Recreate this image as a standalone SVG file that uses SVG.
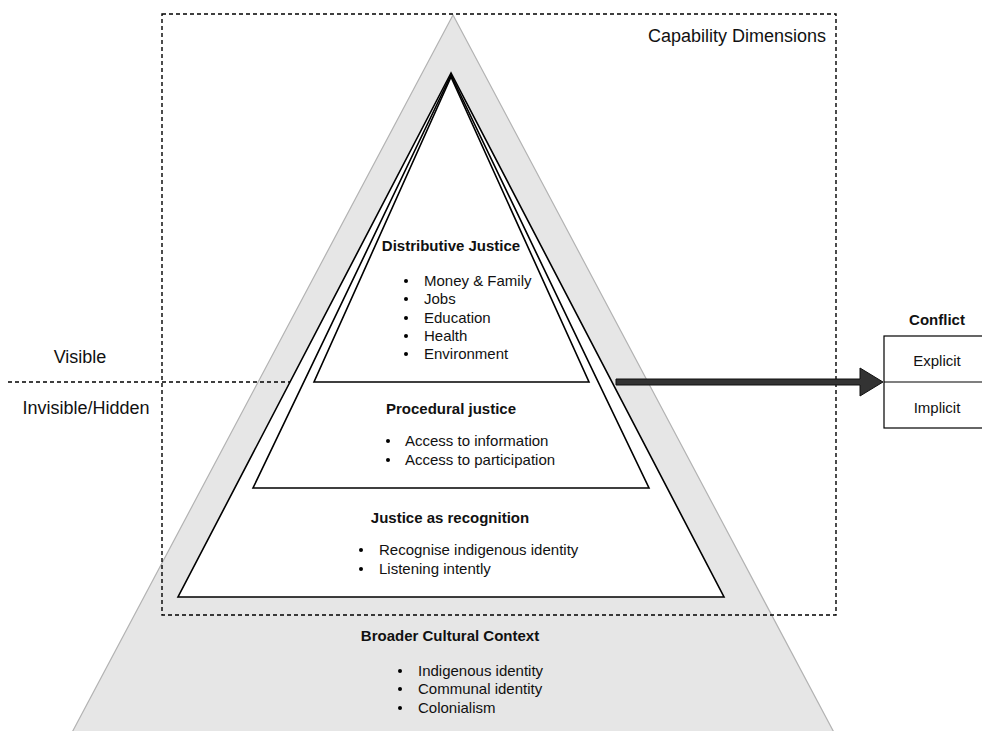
<svg xmlns="http://www.w3.org/2000/svg" width="982" height="731" viewBox="0 0 982 731">
  <style>
    text { font-family: "Liberation Sans", Arial, Helvetica, sans-serif; fill: #111; }
    .lbl { font-size: 18px; }
    .hd { font-size: 15px; font-weight: bold; text-anchor: middle; }
    .it { font-size: 15px; }
    .tier { fill: #fff; stroke: #000; stroke-width: 1.6; stroke-linejoin: miter; }
    .dash { fill: none; stroke: #000; stroke-width: 1.4; stroke-dasharray: 4 3; }
  </style>

  <!-- outer cultural context triangle -->
  <g id="context">
    <polygon points="453,15 68,740 838,740" fill="#e6e6e6" stroke="#b3b3b3" stroke-width="1.2"/>
    <text class="hd" x="450" y="641">Broader Cultural Context</text>
    <circle cx="400" cy="671" r="2"/>
    <text class="it" x="418" y="676">Indigenous identity</text>
    <circle cx="400" cy="689" r="2"/>
    <text class="it" x="418" y="694">Communal identity</text>
    <circle cx="400" cy="708" r="2"/>
    <text class="it" x="418" y="713">Colonialism</text>
  </g>

  <!-- capability frame -->
  <g id="capability">
    <rect class="dash" x="162" y="14" width="674" height="601"/>
    <text class="lbl" x="826" y="42" text-anchor="end">Capability Dimensions</text>
  </g>

  <!-- visibility divider -->
  <g id="visibility">
    <line class="dash" x1="8" y1="382" x2="292" y2="382"/>
    <text class="lbl" x="80" y="363" text-anchor="middle">Visible</text>
    <text class="lbl" x="86" y="414" text-anchor="middle">Invisible/Hidden</text>
  </g>

  <g id="recognition">
    <polygon class="tier" points="451,73 178,597 724,597"/>
    <text class="hd" x="450" y="523">Justice as recognition</text>
    <circle cx="361" cy="550" r="2"/>
    <text class="it" x="379" y="555">Recognise indigenous identity</text>
    <circle cx="361" cy="569" r="2"/>
    <text class="it" x="379" y="574">Listening intently</text>
  </g>

  <g id="procedural">
    <polygon class="tier" points="451,75 253,488 649,488"/>
    <text class="hd" x="451" y="414">Procedural justice</text>
    <circle cx="388" cy="441" r="2"/>
    <text class="it" x="405" y="446">Access to information</text>
    <circle cx="388" cy="460" r="2"/>
    <text class="it" x="405" y="465">Access to participation</text>
  </g>

  <g id="distributive">
    <polygon class="tier" points="451,77 314,382 589,382"/>
    <text class="hd" x="451" y="251">Distributive Justice</text>
    <circle cx="406" cy="281" r="2"/>
    <text class="it" x="424" y="286">Money &amp; Family</text>
    <circle cx="406" cy="299" r="2"/>
    <text class="it" x="424" y="304">Jobs</text>
    <circle cx="406" cy="318" r="2"/>
    <text class="it" x="424" y="323">Education</text>
    <circle cx="406" cy="336" r="2"/>
    <text class="it" x="424" y="341">Health</text>
    <circle cx="406" cy="354" r="2"/>
    <text class="it" x="424" y="359">Environment</text>
  </g>

  <g id="conflict">
    <text class="hd" x="937" y="325">Conflict</text>
    <rect x="884" y="336" width="110" height="92" fill="#fff" stroke="#000" stroke-width="1.2"/>
    <line x1="884" y1="382" x2="994" y2="382" stroke="#000" stroke-width="1.2"/>
    <text class="it" x="937" y="366" text-anchor="middle">Explicit</text>
    <text class="it" x="937" y="413" text-anchor="middle">Implicit</text>
  </g>

  <!-- connectors -->
  <g id="connectors">
    <polygon points="616,379 860,379 860,368 883,382 860,396 860,385 616,385" fill="#333" stroke="#111" stroke-width="1"/>
  </g>
</svg>
